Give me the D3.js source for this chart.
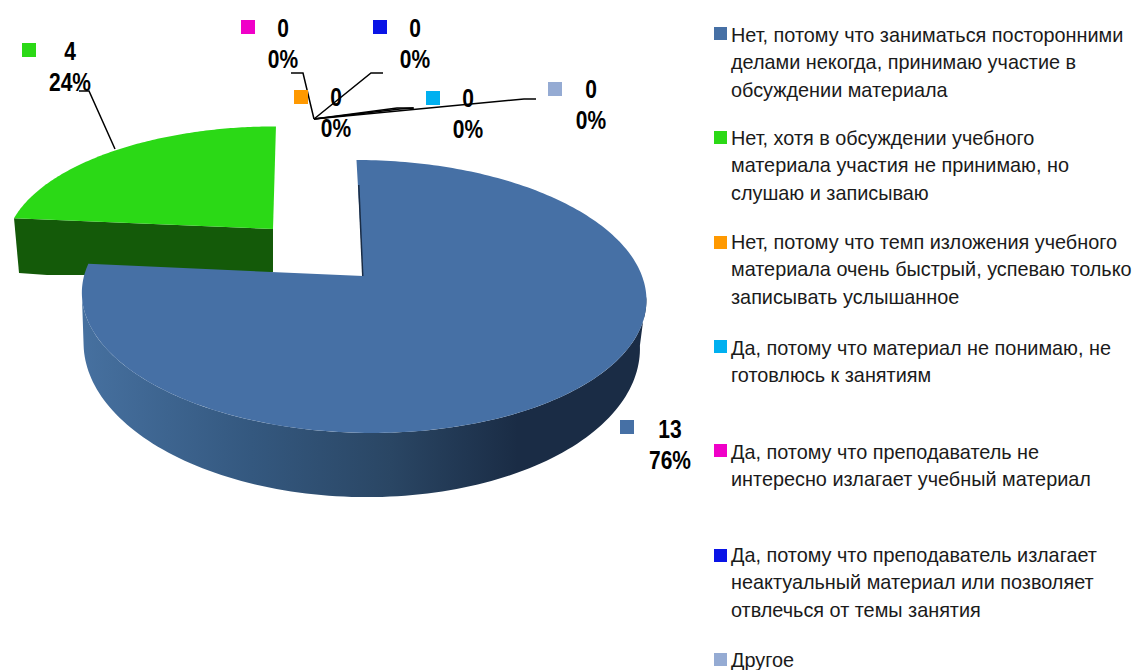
<!DOCTYPE html>
<html><head><meta charset="utf-8">
<script src="https://cdn.jsdelivr.net/npm/d3@7"></script>
<style>html,body{margin:0;padding:0;background:#fff}svg{display:block}text{font-family:"Liberation Sans",Arial,sans-serif}</style>
</head><body><div id="c"></div>
<script>
const categories = [
 ["Нет, потому что заниматься посторонними","делами некогда, принимаю участие в","обсуждении материала"],
 ["Нет, хотя в обсуждении учебного","материала участия не принимаю, но","слушаю и записываю"],
 ["Нет, потому что темп изложения учебного","материала очень быстрый, успеваю только","записывать услышанное"],
 ["Да, потому что материал не понимаю, не","готовлюсь к занятиям"],
 ["Да, потому что преподаватель не","интересно излагает учебный материал"],
 ["Да, потому что преподаватель излагает","неактуальный материал или позволяет","отвлечься от темы занятия"],
 ["Другое"]
];
const values = [13,4,0,0,0,0,0];
const percents = ["76%","24%","0%","0%","0%","0%","0%"];
const colors = ["#4670A5","#2BD916","#FF9900","#00B0F0","#F000C8","#0A14E6","#95ABD3"];

const W=1133,H=670;
const svg=d3.select("#c").append("svg").attr("width",W).attr("height",H);
const pie=d3.pie().sort(null).value(d=>d)(values);
const K=0.15;
function proj(o){return (theta,r=1)=>{const u=Math.sin(theta)*r,v=Math.cos(theta)*r,w=1+K*v;
  return [o.cx+(o.R*u+(o.sh||0)*v)/w,o.cy-o.S*v/w];};}
const topBlue=proj({cx:363,cy:276,R:279,S:133.4,sh:-7.5});
const botBlue=proj({cx:361,cy:323,R:275,S:148,sh:-5});
const topGreen=proj({cx:273,cy:229,R:264,S:118,sh:3.4});
const line=d3.line();
const arcPts=(p,a0,a1,n=120)=>d3.range(n+1).map(i=>p(a0+(a1-a0)*i/n));

const defs=svg.append("defs");
const grad=defs.append("linearGradient").attr("id","side").attr("gradientUnits","userSpaceOnUse")
  .attr("x1",85).attr("x2",640).attr("y1",0).attr("y2",0);
[[0,"#46709F"],[0.3,"#34587F"],[0.55,"#2A4664"],[0.78,"#1A2C45"],[1,"#1A2C45"]].forEach(s=>grad.append("stop").attr("offset",s[0]).attr("stop-color",s[1]));

// green slice
const g=pie[1];
const gPts=arcPts(topGreen,g.startAngle,g.endAngle);
const gLeft=gPts[0], gApex=topGreen(0,0);
svg.append("path").attr("fill","#145A09").attr("d",line([gLeft,gApex,[gApex[0],272],[gLeft[0]+71,275],[gLeft[0]+33,275],[gLeft[0]+5,273]])+"Z");
svg.append("path").attr("fill",colors[1]).attr("d",line([gApex,...gPts])+"Z");

// blue slice
const b=pie[0];
const sA=Math.PI/2+0.15, eA=3*Math.PI/2-0.15;
const side=[...arcPts(topBlue,sA,eA),...arcPts(botBlue,eA,sA)];
svg.append("path").attr("fill","url(#side)").attr("d",line(side)+"Z");
svg.append("path").attr("fill",colors[0]).attr("d",line([topBlue(0,0),...arcPts(topBlue,b.startAngle,b.endAngle,240)])+"Z");
svg.append("path").attr("fill","#1A2C45").attr("d",line([[358,185],[362,276],[363.5,276],[359.5,185]])+"Z");

// leader lines
const leaders=[[[79,91],[89,91],[115,149]],[[291,73],[303,73],[314,119]],[[383,73],[371,73],[314,119]],[[413,108],[397,108],[314,119]],[[414,108],[400,109],[314,119]],[[536,99],[524,99],[314,119]]];
svg.append("g").selectAll("path").data(leaders).join("path").attr("fill","none").attr("stroke","#000").attr("stroke-width",1.5).attr("d",d=>line(d));

// data labels
const labelPos=[{m:[620,420],x:670,y:438},{m:[22,43],x:70,y:60},{m:[294,90],x:336,y:106},{m:[426,91],x:468,y:107},{m:[241,20],x:283,y:37},{m:[373,20],x:415,y:37},{m:[548,82],x:591,y:98}];
const lab=svg.append("g").selectAll("g").data(values).join("g");
lab.append("rect").attr("x",(d,i)=>labelPos[i].m[0]).attr("y",(d,i)=>labelPos[i].m[1]).attr("width",14).attr("height",14).attr("fill",(d,i)=>colors[i]);
lab.append("text").attr("transform",(d,i)=>`translate(${labelPos[i].x},${labelPos[i].y}) scale(.84,1)`).attr("text-anchor","middle").attr("font-weight","bold").attr("font-size",25).text(d=>d);
lab.append("text").attr("transform",(d,i)=>`translate(${labelPos[i].x},${labelPos[i].y+31}) scale(.84,1)`).attr("text-anchor","middle").attr("font-weight","bold").attr("font-size",25).text((d,i)=>percents[i]);

// legend
const legY=[42,145,249,355,459,562,667];
const legM=[27,131,236,340,444,549,653];
const leg=svg.append("g").selectAll("g").data(categories).join("g");
leg.append("rect").attr("x",714).attr("y",(d,i)=>legM[i]).attr("width",13).attr("height",13).attr("fill",(d,i)=>colors[i]);
leg.each(function(d,i){d3.select(this).selectAll("text").data(d).join("text").attr("transform",(t,j)=>`translate(731,${legY[i]+27.3*j}) scale(.945,1)`).attr("font-size",21).attr("fill","#1a1a1a").text(t=>t);});
</script></body></html>
